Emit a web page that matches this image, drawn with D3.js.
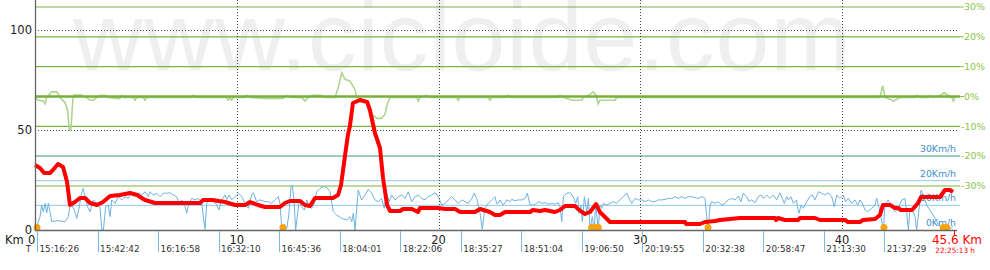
<!DOCTYPE html>
<head>
    <meta charset="utf-8">
    <style>
        body { margin: 0; background: #fff; }
        svg { display: block; font-family: "DejaVu Sans", Verdana, sans-serif; }
        .wm { font-family: "Liberation Sans", Arial, sans-serif; fill: #efefef; }
    </style>
</head>
<svg width="990" height="270" class="profile"></svg>
<script src="https://cdn.jsdelivr.net/npm/d3@7/dist/d3.min.js"></script>
<script>
    // elevation profile (km, m)
    const elevKm = [0,0.25,0.45,0.74,0.89,1.14,1.39,1.59,1.73,1.98,2.23,2.48,2.73,3.07,3.37,3.72,4.21,4.71,5.06,5.45,5.95,8.18,8.33,8.77,9.42,9.91,10.41,10.66,11.05,11.4,12.14,12.39,12.64,13.14,13.38,13.63,13.88,14.77,15.02,15.17,15.37,15.51,15.61,15.76,16.11,16.46,16.6,16.85,17.1,17.25,17.45,17.6,18.09,18.24,18.69,18.98,19.08,19.98,20.32,20.82,21.07,21.81,22.06,22.55,22.8,23.05,23.3,24.54,24.68,25.03,25.28,25.77,26.02,26.27,26.77,26.91,27.11,27.26,27.51,27.81,28,28.25,28.5,29.64,32.22,32.27,32.96,33.21,33.71,33.95,34.45,34.94,36.68,36.73,36.83,37.17,37.82,37.92,38.66,38.91,40.15,40.3,40.89,41.04,41.64,41.88,42.03,42.38,42.63,42.78,42.92,43.47,43.77,43.92,44.61,44.86,45.1,45.35,45.5];
    const elevM = [32.5,31,28.5,28.5,30,33,31.5,24,12.5,14,16,16,13.5,12.5,14,17,17.5,18.5,17.5,15,13.5,13.5,15,15,14,12.5,12.5,14,12.5,11.5,11.5,13.5,14.5,14.5,12.5,12,16,16,17.5,22.5,37.5,47.5,52,63.5,65,64,60,48.5,41,26,12.5,9.5,9.5,10.5,10.5,9,11,11,10.5,10.5,9,9,10.5,9,7.5,7.5,9,9,10,9.5,10,9,10,12,12,10.5,9,8,9,13,9,6.5,4,4,4,3,3,4,4.5,5,5.5,6,6,5,6,5,5,6,6,5,5,4,4,5,5.5,7.5,12.5,12.5,11,11,10,10,13.5,16.5,16.5,16.5,20,20,19];

    // speed (km, km/h)
    const speedKm = [0.08,0.25,0.33,0.41,0.5,0.58,0.66,0.74,0.83,1.15,1.49,1.65,1.73,1.82,1.95,2.07,2.18,2.31,2.39,2.48,2.61,2.73,2.89,3.06,3.22,3.31,3.39,3.5,3.63,3.72,3.8,3.97,4.13,4.3,4.46,4.62,4.79,4.96,5.12,5.29,5.45,5.62,5.7,5.86,6.03,6.2,6.36,6.53,6.69,6.86,7.02,7.14,7.27,7.4,7.52,7.63,7.77,7.93,8.09,8.26,8.34,8.43,8.51,8.67,8.84,9.01,9.12,9.25,9.42,9.5,9.62,9.75,9.91,10.08,10.25,10.41,10.57,10.74,10.82,10.99,11.15,11.4,11.56,11.73,11.9,12.06,12.14,12.23,12.39,12.48,12.59,12.69,12.75,12.84,12.92,13,13.1,13.22,13.35,13.47,13.55,13.72,13.84,13.96,14.13,14.29,14.46,14.62,14.71,14.79,14.95,15.2,15.45,15.61,15.7,15.78,15.86,15.95,16.02,16.19,16.36,16.52,16.69,16.85,17.02,17.18,17.31,17.43,17.55,17.68,17.84,18.01,18.18,18.34,18.5,18.67,18.84,19,19.17,19.33,19.49,19.66,19.83,19.99,20.16,20.32,20.49,20.65,20.82,20.98,21.15,21.31,21.48,21.65,21.77,21.89,22.06,22.17,22.3,22.47,22.64,22.8,22.88,22.96,23.05,23.21,23.38,23.54,23.62,23.79,23.96,24.12,24.29,24.4,24.54,24.7,24.87,24.98,25.12,25.28,25.44,25.61,25.77,25.94,26.02,26.11,26.19,26.35,26.52,26.68,26.8,26.9,26.96,27.06,27.13,27.23,27.35,27.43,27.51,27.62,27.72,27.79,27.92,28,28.09,28.17,28.34,28.5,28.66,28.83,28.99,29.16,29.33,29.49,29.58,29.74,29.9,30.07,30.24,30.4,30.57,30.73,30.89,31.06,31.23,31.39,31.56,31.72,31.89,32.05,32.22,32.38,32.55,32.71,32.88,33.05,33.21,33.29,33.37,33.46,33.54,33.71,33.87,34.04,34.2,34.36,34.53,34.7,34.86,34.99,35.11,35.28,35.39,35.52,35.69,35.85,35.98,36.1,36.27,36.43,36.6,36.76,36.93,37.04,37.14,37.26,37.34,37.47,37.59,37.75,37.8,37.87,37.97,38.08,38.25,38.41,38.53,38.66,38.83,38.99,39.16,39.32,39.49,39.62,39.74,39.9,40.06,40.18,40.31,40.48,40.64,40.78,40.89,41.01,41.14,41.27,41.47,41.64,41.72,41.83,41.93,42.05,42.13,42.29,42.46,42.63,42.79,42.96,43.12,43.21,43.29,43.37,43.48,43.62,43.7,43.78,43.92,44.2,44.51,44.86,45.01,45.19,45.35,45.5];
    const speedKmh = [1.3,5.4,10.1,7.4,10.8,6.9,10.8,7.4,3.4,3.8,3.4,5.4,9.4,10.1,8.1,4.7,8.8,14.9,16.9,13.5,9.4,7.4,12.2,10.8,9.4,0,0,9.4,10.1,5.4,12.2,10.8,13.5,12.2,13.5,12.8,15.5,14.2,15.1,14.2,15.5,13.5,15.5,14.2,14.9,13.5,14.9,14.9,15.1,14.2,13.5,10.8,12.2,10.8,6.8,10.8,12.8,12.2,12.8,11.5,5.4,0.3,10.8,12.4,12.2,10.1,8.1,12.2,14.2,12.4,14.2,12.2,13.5,14.9,13.5,10.8,8.8,14.2,15.1,11.5,12.2,11.5,11.5,10.8,12.2,13.5,10.8,1.3,0,0.7,6.8,17.6,18.2,12.2,0,5.4,12.2,9.4,8.1,12.2,10.1,8.8,10.8,15.5,16.9,17.6,17.3,15.5,10.8,7.4,6.1,4.7,4.1,5.4,3.4,6.8,0,8.8,16.2,12.2,14.2,16.5,14.9,12.2,11.5,12.8,8.8,14.9,11.5,14.2,12.2,13.5,14.2,12.8,15.5,11.5,13.5,14.2,12.8,12.2,13.5,14.2,15.1,13.5,10.1,10.8,12.2,13.5,12.2,10.8,12.2,11.5,10.8,12.8,14.9,12.8,6.8,0.3,8.8,10.8,12.2,13.5,10.8,10.8,12.2,10.1,12.2,11.5,12.4,11.9,12.2,12.2,12.8,14.9,10.1,10.1,10.8,11.5,10.8,11.1,10.5,10.8,10.5,11.1,9.4,3.4,13.5,14.9,15.1,13.5,10.8,13.5,6.8,10.1,3.4,13.5,6.8,12.8,0,5.4,0,10.8,0,10.1,8.8,10.8,10.1,10.8,11.5,10.8,12.2,13.5,14.9,12.2,10.8,12.8,12.2,12.2,11.5,12.2,11.5,11.5,12.2,12.2,12.4,12.8,12.8,13.5,12.8,13.5,12.8,13.5,13.5,13.1,12.8,13.5,12.8,5.4,0,10.1,11.5,10.8,11.5,10.1,10.8,12.2,12.8,12.2,13.8,11.5,14.9,13.5,11.5,12.2,11.1,13.5,14.2,12.8,14.2,12.8,14.2,12.2,15.1,12.8,10.8,13.5,12.2,13.5,10.8,12.2,8.8,6.8,10.1,8.8,11.5,13.5,14.2,12.2,15.5,14.9,14.2,15.1,13.5,9.4,14.2,12.8,14.2,11.5,12.8,10.8,12.2,10.1,12.2,10.8,8.1,7.4,8.8,10.1,12.8,9.4,5.4,0,10.1,12.2,9.4,7.4,8.8,12.2,12.8,6.8,0,8.8,8.1,5.4,0,5.4,16.2,10.1,6.1,1.3,0,0.7,0.4,1.6];

    // grade (km, %)
    const gradeKm = [0,0.16,0.41,0.5,0.58,0.83,1.08,1.24,1.49,1.62,1.7,1.78,1.87,1.93,2.31,2.56,2.73,2.89,3.06,3.22,3.52,3.63,4.05,4.21,4.3,4.38,4.87,4.96,5.04,5.37,5.45,5.54,7.77,7.85,7.93,9.5,9.58,9.67,9.75,9.83,10.41,10.5,10.66,11.4,12.29,12.48,12.64,13.22,13.38,13.55,13.72,14.21,14.37,14.87,15.03,15.2,15.37,15.61,15.86,15.95,16.27,16.52,16.69,16.94,17.18,17.35,17.46,17.6,18.92,19,19.08,19.41,19.58,20.9,20.98,21.07,22.47,22.55,22.64,23.38,23.46,23.54,25.94,26.02,26.19,26.65,27.1,27.18,27.43,27.67,27.81,27.92,28,28.75,28.83,41.88,42.02,42.13,42.38,42.55,42.71,42.88,43.62,43.7,43.87,44.26,44.36,44.52,44.86,45.06,45.27,45.44,45.52,45.6];
    const gradePct = [0,-0.9,-1.2,-2.1,0,1.9,1.9,0,-1.7,-4.5,-11,-11,-1.2,0.8,0.8,0,-0.9,-0.9,0,0.7,0.7,0,-0.3,-0.3,0.7,0,0,-0.9,0,0,-0.9,0,0,0.7,0,0,-0.9,0,-0.9,0,0,0.7,0,-0.3,-0.3,0.7,0,0,-1.2,0,0.7,0.7,0,0,3.3,8.3,6.1,5.5,2.7,0,-0.9,-1.2,-5.6,-7,-7,-5.6,-2.3,0,0,-1.2,0,0.7,0,0,-0.9,0,0,-0.9,0,0,0.7,0,0,0.7,0,-0.9,-0.9,0,0.7,1.9,0.7,-2.1,-0.9,-0.9,0,0,3.9,0,-0.6,-1.2,-0.6,0,0,0.7,0,0,0.7,0,0.7,1.6,0.7,0,-1.2,0];

    // stops, time marks, ticks
    const stopKm = [0.1,12.29,27.59,27.76,27.92,33.36,42.08,45.02,45.19];
    const timeKm = [0.1,3.1,6.1,9.1,12.1,15.1,18.1,21.1,24.1,27.1,30.1,33.1,36.1,39.1,42.1];
    const timeLabels = ["15:16:26","15:42:42","16:16:58","16:32:10","16:45:36","18:04:01","18:22:06","18:35:27","18:51:04","19:06:50","20:19:55","20:32:38","20:58:47","21:13:30","21:37:29"];
    const kmTicks = [10, 20, 30, 40];
    const elevTicks = [0, 50, 100];
    const gradeTicks = [30, 20, 10, 0, -10, -20, -30];
    const speedTicks = [30, 20, 10, 0];
    const totalKm = 45.6, totalTime = "22:25:13 h";

    var svg = d3.select(".profile");

    var x = d3.scaleLinear().domain([0, 40]).range([35, 842]),
        yEl = d3.scaleLinear().domain([0, 100]).range([230, 30]),
        ySp = d3.scaleLinear().domain([0, 30]).range([230, 156]),
        yGr = d3.scaleLinear().domain([-30, 30]).range([186, 7]);

    var x0 = 35, x1 = 957, x2 = 960;

    // watermark
    svg.append("text").attr("class", "wm")
        .attr("x", 73).attr("y", 70)
        .attr("font-size", 97)
        .attr("textLength", 778)
        .text("www.cicloide.com");

    // grade grid
    svg.append("g").selectAll("line")
        .data(gradeTicks).enter().append("line")
        .attr("x1", x0).attr("x2", x2)
        .attr("y1", d => yGr(d)).attr("y2", d => yGr(d))
        .attr("stroke", "#7cb342")
        .attr("stroke-width", d => d === 0 ? 1.2 : 1.2);

    svg.append("g").selectAll("text")
        .data(gradeTicks).enter().append("text")
        .attr("x", d => d < 0 ? 961 : 964)
        .attr("y", d => yGr(d))
        .attr("dy", "0.35em")
        .attr("font-size", 9.5)
        .attr("fill", "#8bc34a")
        .text(d => d + "%");
    svg.append("g").selectAll("line")
        .data(gradeTicks.filter(d => d >= 0)).enter().append("line")
        .attr("x1", x2).attr("x2", 964)
        .attr("y1", d => yGr(d)).attr("y2", d => yGr(d))
        .attr("stroke", "#8bc34a");

    // speed grid
    svg.append("g").selectAll("line")
        .data(speedTicks.filter(d => d > 0)).enter().append("line")
        .attr("x1", x0).attr("x2", x2)
        .attr("y1", d => ySp(d)).attr("y2", d => ySp(d))
        .attr("stroke", "#8ccbee");

    // dotted grid
    svg.append("g").selectAll("line")
        .data(elevTicks.filter(d => d > 0)).enter().append("line")
        .attr("x1", x0).attr("x2", x1)
        .attr("y1", d => yEl(d) + 0.5).attr("y2", d => yEl(d) + 0.5)
        .attr("stroke", "#444").attr("stroke-dasharray", "1,2");
    svg.append("g").selectAll("line")
        .data(kmTicks).enter().append("line")
        .attr("x1", d => Math.round(x(d)) + 0.5).attr("x2", d => Math.round(x(d)) + 0.5)
        .attr("y1", 0).attr("y2", 230)
        .attr("stroke", "#444").attr("stroke-dasharray", "1,2");

    // grade line
    var gradeData = gradeKm.map((k, i) => [k, gradePct[i]]);
    svg.append("path").datum(gradeData)
        .attr("fill", "none")
        .attr("stroke", "#afd48e")
        .attr("stroke-width", 1.6)
        .attr("d", d3.line().x(d => x(d[0])).y(d => yGr(d[1]) + 1));
    svg.append("line")
        .attr("x1", x0).attr("x2", x2)
        .attr("y1", yGr(0)).attr("y2", yGr(0))
        .attr("stroke", "#76b23a").attr("stroke-width", 2.5);

    // speed labels
    svg.append("g").selectAll("text")
        .data(speedTicks).enter().append("text")
        .attr("x", 956)
        .attr("y", d => ySp(d) - 4)
        .attr("text-anchor", "end")
        .attr("font-size", 9.3)
        .attr("fill", "#3d8fca")
        .text(d => d + "Km/h");

    // speed line
    var speedData = speedKm.map((k, i) => [k, speedKmh[i]]);
    svg.append("path").datum(speedData)
        .attr("fill", "none")
        .attr("stroke", "#6eb2e0")
        .attr("stroke-width", 1)
        .attr("d", d3.line().x(d => x(d[0])).y(d => ySp(d[1])));

    // elevation line
    var elevData = elevKm.map((k, i) => [k, elevM[i]]);
    svg.append("path").datum(elevData)
        .attr("fill", "none")
        .attr("stroke", "#ff0000")
        .attr("stroke-width", 4)
        .attr("stroke-linejoin", "round")
        .attr("d", d3.line().x(d => x(d[0])).y(d => yEl(d[1])));

    // stops
    svg.append("g").selectAll("circle")
        .data(stopKm).enter().append("circle")
        .attr("cx", d => x(d)).attr("cy", 227.5)
        .attr("r", 3.5)
        .attr("fill", "#f8a30f");

    // axes
    svg.append("line").attr("x1", x0 + 0.5).attr("x2", x0 + 0.5)
        .attr("y1", 0).attr("y2", 231).attr("stroke", "#666").attr("stroke-width", 1.3);
    svg.append("line").attr("x1", x0).attr("x2", x1)
        .attr("y1", 230.5).attr("y2", 230.5).attr("stroke", "#666").attr("stroke-width", 1.3);

    svg.append("g").selectAll("text")
        .data(elevTicks).enter().append("text")
        .attr("x", 32).attr("y", d => yEl(d))
        .attr("dy", "0.35em")
        .attr("text-anchor", "end")
        .attr("font-size", 11.5)
        .attr("fill", "#222")
        .text(d => d);

    svg.append("text").attr("x", 5).attr("y", 244)
        .attr("font-size", 11.5).attr("fill", "#222").text("Km");
    svg.append("text").attr("x", 28).attr("y", 244)
        .attr("font-size", 11.5).attr("fill", "#222").text("0");
    svg.append("g").selectAll("text")
        .data(kmTicks).enter().append("text")
        .attr("x", d => x(d)).attr("y", 244)
        .attr("text-anchor", "middle")
        .attr("font-size", 11.5).attr("fill", "#222")
        .text(d => d);
    svg.append("text").attr("x", 26).attr("y", 252)
        .attr("font-size", 8).attr("fill", "#222").text("T");

    // time marks
    var tg = svg.append("g").selectAll("g")
        .data(timeKm).enter().append("g");
    tg.append("line")
        .attr("x1", d => Math.round(x(d)) + 0.5).attr("x2", d => Math.round(x(d)) + 0.5)
        .attr("y1", 231).attr("y2", 252)
        .attr("stroke", "#7ab8e0");
    tg.append("text")
        .attr("x", d => x(d) + 2.5).attr("y", 252)
        .attr("font-size", 8.8).attr("fill", "#333")
        .text((d, i) => timeLabels[i]);

    // total
    svg.append("line")
        .attr("x1", Math.round(x(totalKm)) - 0.5).attr("x2", Math.round(x(totalKm)) - 0.5)
        .attr("y1", 231).attr("y2", 236).attr("stroke", "#ff0000");
    svg.append("text").attr("x", 982).attr("y", 244)
        .attr("text-anchor", "end")
        .attr("font-size", 12).attr("fill", "#ff0000")
        .text(totalKm + " Km");
    svg.append("text").attr("x", 975).attr("y", 252.5)
        .attr("text-anchor", "end")
        .attr("font-size", 7.3).attr("fill", "#ff0000")
        .text(totalTime);
</script>
